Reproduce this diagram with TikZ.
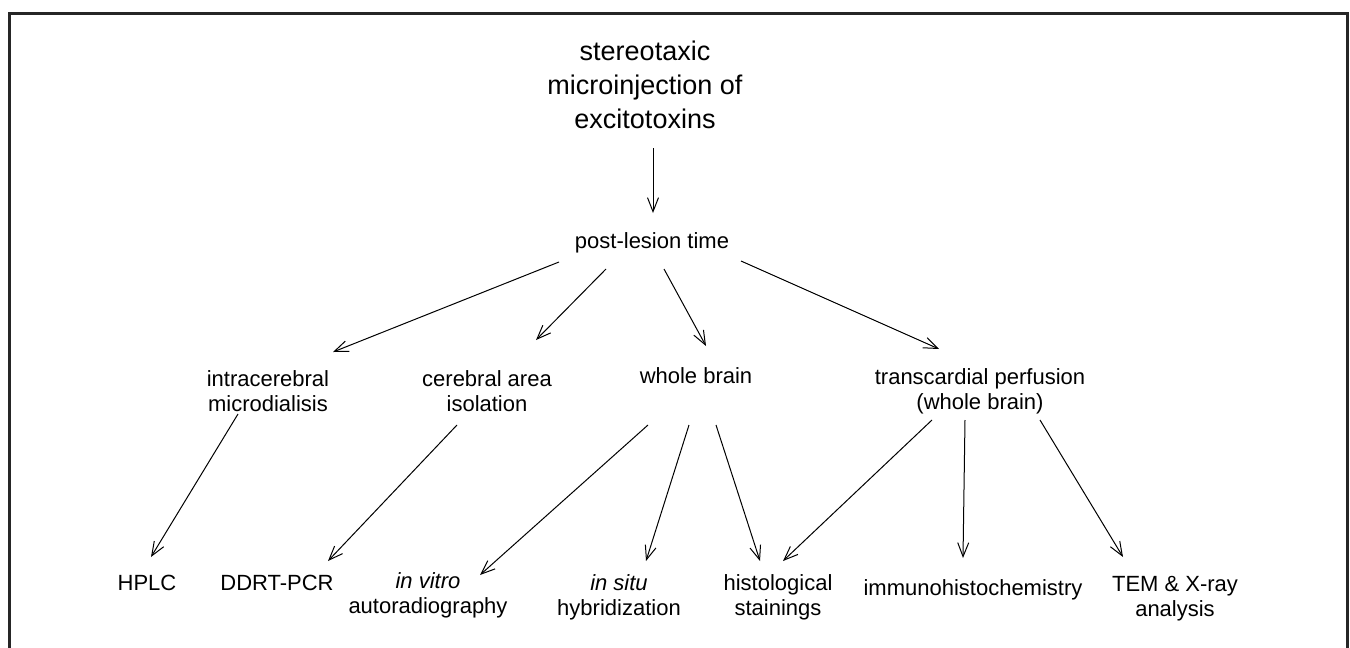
\documentclass[tikz,border=0pt]{standalone}
\usepackage{fontspec}
\setmainfont{Liberation Sans}
\usetikzlibrary{arrows.meta}

\begin{document}
\begin{tikzpicture}[x=0.5pt,y=-0.5pt,>={Straight Barb[length=7pt,width=5.5pt]},
                    line width=0.5pt,
                    every node/.style={inner sep=0pt,align=center,
                      font=\fontsize{11}{12.5}\selectfont}]
  \tikzstyle{head}=[font=\fontsize{13.5}{17}\selectfont]
  \tikzstyle{frame}=[line width=1.5pt,black!85]

  \useasboundingbox (0,0) rectangle (1350,648);
  \draw[frame] (9,650) -- (9,13) -- (1347,13) -- (1347,650);

  \node[head] (inj) at (645,85) {stereotaxic\\microinjection of\\excitotoxins};
  \node (plt) at (652,243) {post-lesion time};

  \node (icm) at (268,391) {intracerebral\\microdialisis};
  \node (cai) at (487,391) {cerebral area\\isolation};
  \node (wb)  at (696,376) {whole brain};
  \node (tcp) at (980,391) {transcardial perfusion\\(whole brain)};

  \node (hplc) at (147,583) {HPLC};
  \node (ddrt) at (277,583) {DDRT-PCR};
  \node (ivt)  at (428,595) {\textit{in vitro}\\autoradiography};
  \node (ish)  at (619,597) {\textit{in situ}\\hybridization};
  \node (hist) at (778,597) {histological\\stainings};
  \node (ihc)  at (973,590) {immunohistochemistry};
  \node (tem)  at (1175,599) {TEM \& X-ray\\analysis};

  \draw[->] ([shift={(8,63)}]inj.center) -- ([shift={(1,-30)}]plt.center);

  \draw[->] ([shift={(-93,19)}]plt.center) -- ([shift={(65,-39)}]icm.center);
  \draw[->] ([shift={(-46,26)}]plt.center) -- ([shift={(49,-51)}]cai.center);
  \draw[->] ([shift={(12,26)}]plt.center) -- ([shift={(10,-30)}]wb.center);
  \draw[->] ([shift={(89,18)}]plt.center) -- ([shift={(-41,-42)}]tcp.center);

  \draw[->] ([shift={(-30,23)}]icm.center) -- ([shift={(4,-26)}]hplc.center);
  \draw[->] ([shift={(-30,34)}]cai.center) -- ([shift={(51,-22)}]ddrt.center);
  \draw[->] ([shift={(-48,49)}]wb.center) -- ([shift={(52,-20)}]ivt.center);
  \draw[->] ([shift={(-7,49)}]wb.center) -- ([shift={(27,-36)}]ish.center);
  \draw[->] ([shift={(20,49)}]wb.center) -- ([shift={(-18,-36)}]hist.center);
  \draw[->] ([shift={(-48,29)}]tcp.center) -- ([shift={(5,-36)}]hist.center);
  \draw[->] ([shift={(-15,29)}]tcp.center) -- ([shift={(-10,-32)}]ihc.center);
  \draw[->] ([shift={(60,29)}]tcp.center) -- ([shift={(-52,-42)}]tem.center);
\end{tikzpicture}
\end{document}
